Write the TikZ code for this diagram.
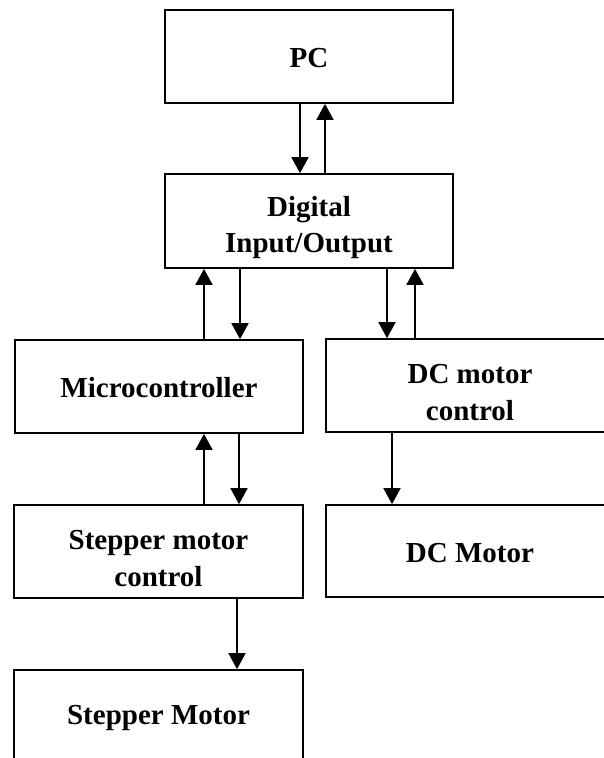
\documentclass[tikz,border=0pt]{standalone}
\usepackage{fontspec}
\setmainfont{Liberation Serif}
\usetikzlibrary{arrows.meta}
\begin{document}
\begin{tikzpicture}[x=1pt,y=-1pt,
  blk/.style={draw=black, line width=1.7pt, fill=white, minimum width=288pt, align=center, inner sep=0pt,
    font=\fontsize{29}{36.5}\selectfont\bfseries, text height=23pt},
  two/.style={text height=70pt},
  arr/.style={line width=1.7pt, -{Triangle[width=17pt,length=16pt]}}]
\useasboundingbox (0,0) rectangle (603,758);
\node[blk, minimum height=93pt] (pc) at (309,56.5) {PC};
\node[blk, two, minimum height=94pt] (dio) at (309,221) {Digital\\Input/Output};
\node[blk, minimum height=93pt] (mc) at (159,386.5) {Microcontroller};
\node[blk, two, minimum height=93pt] (dcc) at (470,385.5) {DC motor\\control};
\node[blk, two, minimum width=289pt, minimum height=93pt] (sc) at (158.5,551.5) {Stepper motor\\control};
\node[blk, minimum height=92pt] (dcm) at (470,551) {DC Motor};
\node[blk, minimum width=289pt, minimum height=93pt] (sm) at (158.5,716.5) {Stepper Motor};
% PC <-> Digital
\draw[arr] (pc.south -| 300,0) -- (dio.north -| 300,0);
\draw[arr] (dio.north -| 325,0) -- (pc.south -| 325,0);
% Digital <-> Microcontroller
\draw[arr] (mc.north -| 204,0) -- (dio.south -| 204,0);
\draw[arr] (dio.south -| 240,0) -- (mc.north -| 240,0);
% Digital <-> DC motor control
\draw[arr] (dio.south -| 387,0) -- (dcc.north -| 387,0);
\draw[arr] (dcc.north -| 415,0) -- (dio.south -| 415,0);
% DC motor control -> DC Motor
\draw[arr] (dcc.south -| 392,0) -- (dcm.north -| 392,0);
% Microcontroller <-> Stepper motor control
\draw[arr] (sc.north -| 204,0) -- (mc.south -| 204,0);
\draw[arr] (mc.south -| 239,0) -- (sc.north -| 239,0);
% Stepper motor control -> Stepper Motor
\draw[arr] (sc.south -| 237,0) -- (sm.north -| 237,0);
\end{tikzpicture}
\end{document}
